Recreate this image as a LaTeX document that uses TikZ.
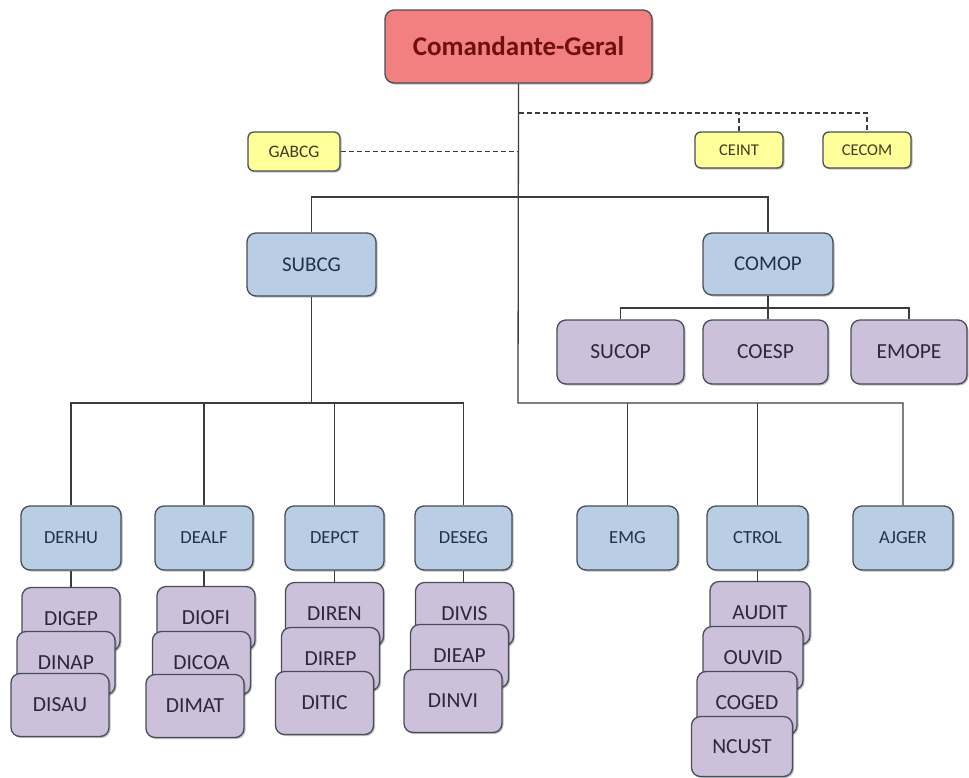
\documentclass[tikz,border=0pt]{standalone}
\usepackage{fontspec}
\setmainfont{Carlito}
\usetikzlibrary{shadows}

\definecolor{edgegray}{RGB}{72,78,88}
\definecolor{linegray}{RGB}{60,60,60}
\definecolor{cgfill}{RGB}{242,128,128}
\definecolor{cgtext}{RGB}{110,16,16}
\definecolor{yelfill}{RGB}{255,255,153}
\definecolor{yeltext}{RGB}{60,60,35}
\definecolor{bluefill}{RGB}{185,205,229}
\definecolor{bluetext}{RGB}{35,48,72}
\definecolor{purpfill}{RGB}{204,192,218}
\definecolor{purptext}{RGB}{45,40,55}

\tikzset{
  unitbox/.style={draw=edgegray, line width=1.3pt, rounded corners=9pt,
    align=center, inner sep=0pt,
    drop shadow={shadow xshift=1.5pt, shadow yshift=-1.5pt, fill=black, opacity=0.25}},
  chief/.style={unitbox, fill=cgfill, text=cgtext,
    font=\fontsize{27}{27}\selectfont\bfseries},
  staff/.style={unitbox, rounded corners=6pt, fill=yelfill, text=yeltext,
    font=\fontsize{16.5}{16.5}\selectfont},
  dept/.style={unitbox, fill=bluefill, text=bluetext,
    minimum width=100pt, minimum height=64pt,
    font=\fontsize{18.5}{18.5}\selectfont},
  sub/.style={unitbox, fill=purpfill, text=purptext,
    minimum width=98pt, minimum height=63pt,
    font=\fontsize{21.5}{21.5}\selectfont},
  link/.style={draw=linegray, line width=1.3pt},
  dline/.style={draw=linegray, line width=1.3pt, dash pattern=on 5pt off 3pt},
}

\begin{document}
\begin{tikzpicture}[x=1pt,y=-1pt]
\useasboundingbox[fill=white] (0,0) rectangle (969,777);

% junction points of the connector network
\coordinate (dtop)  at (518,113);
\coordinate (bar)   at (518,197);
\coordinate (trunk) at (518,403);
\coordinate (lbar)  at (0,403);
\coordinate (cbar)  at (0,308);

% command and staff
\node[chief, minimum width=267pt, minimum height=73pt] (cg) at (518.5,46.5) {Comandante-Geral};
\node[staff, minimum width=92pt, minimum height=39pt, font=\fontsize{17.5}{17.5}\selectfont] (gabcg) at (294,151.5) {GABCG};
\node[staff, minimum width=88pt, minimum height=36pt] (ceint) at (739,150) {CEINT};
\node[staff, minimum width=88pt, minimum height=36pt] (cecom) at (867,150) {CECOM};

% second level
\node[dept, minimum width=129pt, minimum height=63pt, font=\fontsize{21}{21}\selectfont] (subcg) at (311.5,264.5) {SUBCG};
\node[dept, minimum width=130pt, minimum height=62pt, font=\fontsize{21}{21}\selectfont] (comop) at (768,264) {COMOP};
\node[sub, minimum width=127pt, minimum height=64pt] (sucop) at (620.5,352) {SUCOP};
\node[sub, minimum width=125pt, minimum height=64pt] (coesp) at (765.5,352) {COESP};
\node[sub, minimum width=116pt, minimum height=64pt] (emope) at (909,352) {EMOPE};

% departments
\node[dept] (derhu) at (71,538)    {DERHU};
\node[dept, minimum width=98pt] (dealf) at (204,538)  {DEALF};
\node[dept, minimum width=99pt] (depct) at (334.5,538) {DEPCT};
\node[dept, minimum width=97pt] (deseg) at (463.5,538) {DESEG};
\node[dept, minimum width=101pt] (emg)   at (627.5,538) {EMG};
\node[dept, minimum width=101pt] (ctrol) at (757.5,538) {CTROL};
\node[dept] (ajger) at (903,538)   {AJGER};

% directorates, stacked
\node[sub] (digep) at (71,619)  {DIGEP};
\node[sub] (dinap) at (66,663)  {DINAP};
\node[sub] (disau) at (60,705)  {DISAU};

\node[sub] (diofi) at (206,618) {DIOFI};
\node[sub] (dicoa) at (201.5,663) {DICOA};
\node[sub] (dimat) at (195,706) {DIMAT};

\node[sub] (diren) at (334.5,614) {DIREN};
\node[sub] (direp) at (330.5,659) {DIREP};
\node[sub] (ditic) at (324.5,703) {DITIC};

\node[sub] (divis) at (464.5,614) {DIVIS};
\node[sub] (dieap) at (459.5,656) {DIEAP};
\node[sub] (dinvi) at (453,701)   {DINVI};

\node[sub, minimum width=100pt] (audit) at (760,613) {AUDIT};
\node[sub, minimum width=100pt] (ouvid) at (753,658) {OUVID};
\node[sub, minimum width=100pt] (coged) at (747,703) {COGED};
\node[sub, minimum width=101pt, minimum height=60pt] (ncust) at (742,746.5) {NCUST};

% solid hierarchy lines
\draw[link] (cg.south) -- (trunk) -| (ajger.north);
\draw[link] (emg.north) -- (emg.north |- trunk);
\draw[link] (ctrol.north) -- (ctrol.north |- trunk);
\draw[link] (subcg.north) |- (bar) -| (comop.north);
\draw[link] (comop.south) -- (comop.south |- coesp.north);
\draw[link] (sucop.north) |- (emope.north |- cbar) -- (emope.north);
\draw[link] (subcg.south) -- (subcg.south |- lbar);
\draw[link] (derhu.north) |- (deseg.north |- lbar) -- (deseg.north);
\draw[link] (dealf.north) -- (dealf.north |- lbar);
\draw[link] (depct.north) -- (depct.north |- lbar);
\draw[link] (derhu.south) -- (digep.north);
\draw[link] (dealf.south) -- (dealf.south |- diofi.north);
\draw[link] (depct.south) -- (depct.south |- diren.north);
\draw[link] (deseg.south) -- (deseg.south |- divis.north);
\draw[link] (ctrol.south) -- (ctrol.south |- audit.north);

% advisory (dashed) lines
\draw[dline] (cg.south |- dtop) -| (cecom.north);
\draw[dline] (ceint.north) -- (ceint.north |- dtop);
\draw[dline] (gabcg.east) -- (gabcg.east -| trunk);
\end{tikzpicture}
\end{document}
